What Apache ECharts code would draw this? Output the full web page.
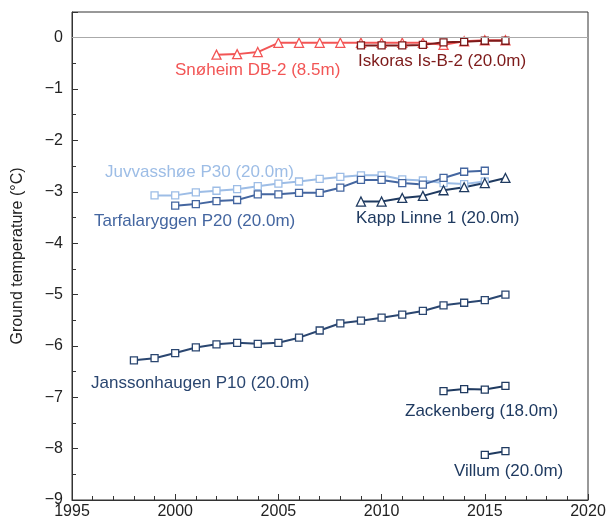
<!DOCTYPE html>
<html>
<head>
<meta charset="utf-8">
<script src="https://cdn.jsdelivr.net/npm/echarts@6/dist/echarts.min.js"></script>
<style>
html, body { margin: 0; padding: 0; background: #fff; }
#main { width: 609px; height: 525px; }
</style>
</head>
<body>
<div id="main"></div>
<script>
// years per station
const snoheimYears = [2002, 2003, 2004, 2005, 2006, 2007, 2008, 2009, 2010, 2011, 2012, 2013, 2014, 2015, 2016]
const snoheimTemp = [-0.33, -0.32, -0.28, -0.1, -0.1, -0.1, -0.1, -0.1, -0.1, -0.1, -0.1, -0.14, -0.07, -0.05, -0.05]

const iskorasYears = [2009, 2010, 2011, 2012, 2013, 2014, 2015, 2016]
const iskorasTemp = [-0.15, -0.15, -0.15, -0.14, -0.09, -0.08, -0.06, -0.06]

const juvvYears = [1999, 2000, 2001, 2002, 2003, 2004, 2005, 2006, 2007, 2008, 2009, 2010, 2011, 2012, 2013, 2014, 2015]
const juvvTemp = [-3.07, -3.07, -3.01, -2.98, -2.95, -2.89, -2.84, -2.8, -2.75, -2.71, -2.68, -2.68, -2.76, -2.78, -2.83, -2.85, -2.8]

const tarfYears = [2000, 2001, 2002, 2003, 2004, 2005, 2006, 2007, 2008, 2009, 2010, 2011, 2012, 2013, 2014, 2015]
const tarfTemp = [-3.27, -3.24, -3.18, -3.16, -3.05, -3.05, -3.02, -3.02, -2.92, -2.77, -2.77, -2.83, -2.86, -2.73, -2.61, -2.59]

const kappYears = [2009, 2010, 2011, 2012, 2013, 2014, 2015, 2016]
const kappTemp = [-3.19, -3.19, -3.12, -3.08, -2.97, -2.91, -2.83, -2.73]

const janssYears = [1998, 1999, 2000, 2001, 2002, 2003, 2004, 2005, 2006, 2007, 2008, 2009, 2010, 2011, 2012, 2013, 2014, 2015, 2016]
const janssTemp = [-6.28, -6.24, -6.14, -6.03, -5.97, -5.94, -5.96, -5.94, -5.84, -5.7, -5.56, -5.51, -5.45, -5.39, -5.32, -5.21, -5.16, -5.11, -5.0]

const zackYears = [2013, 2014, 2015, 2016]
const zackTemp = [-6.88, -6.84, -6.85, -6.78]

const villumYears = [2015, 2016]
const villumTemp = [-8.12, -8.05]

const pair = (xs, ys) => xs.map((x, i) => [x, ys[i]])

let myChart = echarts.init(document.getElementById('main'))

const font = '"Liberation Sans", Arial, sans-serif'

function station(name, xs, ys, color, symbol) {
    return {
        name: name,
        type: 'line',
        data: pair(xs, ys),
        symbol: symbol,
        symbolSize: symbol === 'triangle' ? 9 : 7,
        lineStyle: { color: color, width: 2 },
        itemStyle: { color: '#fff', borderColor: color, borderWidth: 1.3 },
        emphasis: { disabled: true },
        animation: false
    }
}

function label(text, x, y, color) {
    return {
        type: 'text',
        x: x,
        y: y,
        style: {
            text: text,
            fill: color,
            font: '17px ' + font,
            textVerticalAlign: 'middle'
        }
    }
}

let option = {
    grid: {
        left: 72,
        right: 21,
        top: 12,
        bottom: 25,
        show: true,
        borderColor: '#333',
        borderWidth: 1
    },
    xAxis: {
        type: 'value',
        min: 1995,
        max: 2020,
        interval: 5,
        axisLine: { onZero: false, lineStyle: { color: '#333' } },
        axisTick: { inside: true, length: 6, lineStyle: { color: '#333' } },
        minorTick: { show: true, splitNumber: 5, length: 4, lineStyle: { color: '#333' } },
        splitLine: { show: false },
        axisLabel: {
            color: '#222', fontSize: 16, fontFamily: font, margin: 4,
            formatter: v => String(v)
        }
    },
    yAxis: {
        type: 'value',
        min: -9,
        max: 0.5,
        interval: 1,
        name: 'Ground temperature (°C)',
        nameLocation: 'middle',
        nameGap: 46,
        nameTextStyle: { color: '#222', fontSize: 16, fontFamily: font },
        axisLine: { show: true, lineStyle: { color: '#333' } },
        axisTick: { inside: true, length: 6, lineStyle: { color: '#333' } },
        minorTick: { show: true, splitNumber: 2, length: 4, lineStyle: { color: '#333' } },
        splitLine: { show: false },
        axisLabel: {
            color: '#222', fontSize: 16, fontFamily: font, margin: 9,
            formatter: v => Number.isInteger(v) ? String(v).replace('-', '\u2212') : ''
        }
    },
    series: [
        {
            type: 'line',
            data: [],
            markLine: {
                silent: true,
                symbol: 'none',
                label: { show: false },
                lineStyle: { color: '#aaa', width: 1, type: 'solid' },
                data: [{ yAxis: 0 }]
            }
        },
        station('Snøheim DB-2', snoheimYears, snoheimTemp, '#f25555', 'triangle'),
        station('Iskoras Is-B-2', iskorasYears, iskorasTemp, '#7d1a1a', 'rect'),
        station('Juvvasshøe P30', juvvYears, juvvTemp, '#9dbde6', 'rect'),
        station('Tarfalaryggen P20', tarfYears, tarfTemp, '#4466a0', 'rect'),
        station('Kapp Linne 1', kappYears, kappTemp, '#1f3a60', 'triangle'),
        station('Janssonhaugen P10', janssYears, janssTemp, '#2a4670', 'rect'),
        station('Zackenberg', zackYears, zackTemp, '#1f3a60', 'rect'),
        station('Villum', villumYears, villumTemp, '#1f3a60', 'rect')
    ],
    graphic: [
        label('Snøheim DB-2 (8.5m)', 175, 70, '#f25555'),
        label('Iskoras Is-B-2 (20.0m)', 358, 61, '#7d1a1a'),
        label('Juvvasshøe P30 (20.0m)', 105, 172, '#9dbde6'),
        label('Tarfalaryggen P20 (20.0m)', 94, 221, '#4466a0'),
        label('Kapp Linne 1 (20.0m)', 356, 218, '#1f3a60'),
        label('Janssonhaugen P10 (20.0m)', 91, 383, '#2a4670'),
        label('Zackenberg (18.0m)', 405, 411, '#1f3a60'),
        label('Villum (20.0m)', 454, 471, '#1f3a60')
    ]
}

myChart.setOption(option)
</script>
</body>
</html>
